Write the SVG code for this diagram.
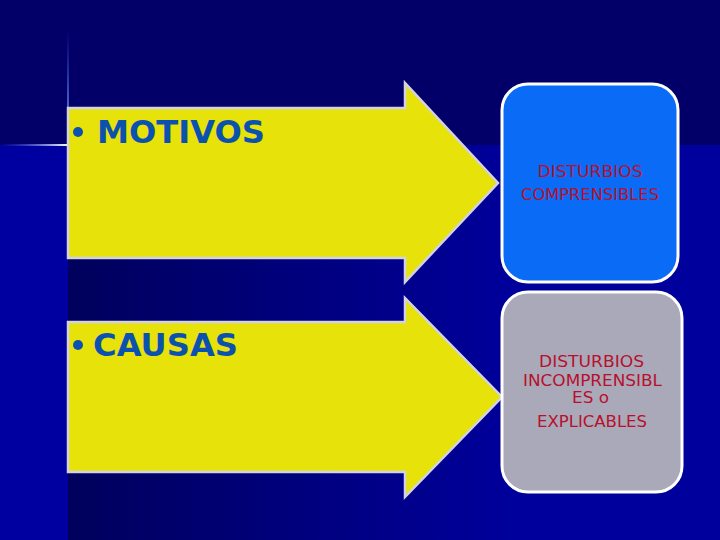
<svg xmlns="http://www.w3.org/2000/svg" width="720" height="540" viewBox="0 0 720 540">
<defs>
<linearGradient id="bgLow" x1="68" y1="0" x2="520" y2="0" gradientUnits="userSpaceOnUse">
<stop offset="0" stop-color="#00005c"/>
<stop offset="1" stop-color="#00009c"/>
</linearGradient>
<linearGradient id="vGlow" x1="0" y1="30" x2="0" y2="145" gradientUnits="userSpaceOnUse">
<stop offset="0" stop-color="#3a6cff" stop-opacity="0"/>
<stop offset="1" stop-color="#8aacff" stop-opacity="1"/>
</linearGradient>
<linearGradient id="hGlow" x1="0" y1="0" x2="68" y2="0" gradientUnits="userSpaceOnUse">
<stop offset="0" stop-color="#3a6cff" stop-opacity="0"/>
<stop offset="1" stop-color="#ffffff" stop-opacity="1"/>
</linearGradient>
</defs>
<style>
.arrow{fill:#e6e20a;stroke:#d2d2e4;stroke-width:2.5;stroke-linejoin:miter}
.lbl{font-family:"DejaVu Sans","Verdana",sans-serif;font-weight:bold;font-size:32px;fill:#0b52b0}
.bul{fill:#0b52b0}
.box{stroke:#ffffff;stroke-width:3}
.btxt{font-family:"DejaVu Sans Condensed","DejaVu Sans",sans-serif;font-size:15px;fill:#b8102c;text-anchor:middle}
</style>
<g id="background">
<rect x="0" y="0" width="720" height="540" fill="#0000a0"/>
<rect x="68" y="145" width="652" height="395" fill="url(#bgLow)"/>
<rect x="0" y="0" width="720" height="145" fill="#020068"/>
<rect x="67" y="30" width="2" height="115" fill="url(#vGlow)"/>
<rect x="0" y="144" width="68" height="2" fill="url(#hGlow)"/>
</g>
<g id="connectors"/>
<g id="motivos">
<path class="arrow" d="M68,108 H405 V83 L498,183 L405,282 V258 H68 Z"/>
<circle class="bul" cx="78" cy="132" r="5"/>
<text class="lbl" x="97" y="143" textLength="168" lengthAdjust="spacingAndGlyphs">MOTIVOS</text>
</g>
<g id="causas">
<path class="arrow" d="M68,322 H405 V298 L502,397 L405,497 V472 H68 Z"/>
<circle class="bul" cx="78" cy="345" r="5"/>
<text class="lbl" x="93" y="356" textLength="145" lengthAdjust="spacingAndGlyphs">CAUSAS</text>
</g>
<g id="comprensibles">
<rect class="box" x="502" y="84" width="176" height="198" rx="26" ry="26" fill="#0a6cf6"/>
<text class="btxt" x="590" y="177" textLength="105" lengthAdjust="spacingAndGlyphs">DISTURBIOS</text>
<text class="btxt" x="590" y="200" textLength="138" lengthAdjust="spacingAndGlyphs">COMPRENSIBLES</text>
</g>
<g id="incomprensibles">
<rect class="box" x="502" y="292" width="180" height="200" rx="26" ry="26" fill="#a9a9b9"/>
<text class="btxt" x="591.5" y="367" textLength="105" lengthAdjust="spacingAndGlyphs">DISTURBIOS</text>
<text class="btxt" x="592.5" y="386" textLength="139" lengthAdjust="spacingAndGlyphs">INCOMPRENSIBL</text>
<text class="btxt" x="590.5" y="403" textLength="37" lengthAdjust="spacingAndGlyphs">ES o</text>
<text class="btxt" x="592" y="427" textLength="110" lengthAdjust="spacingAndGlyphs">EXPLICABLES</text>
</g>
</svg>
